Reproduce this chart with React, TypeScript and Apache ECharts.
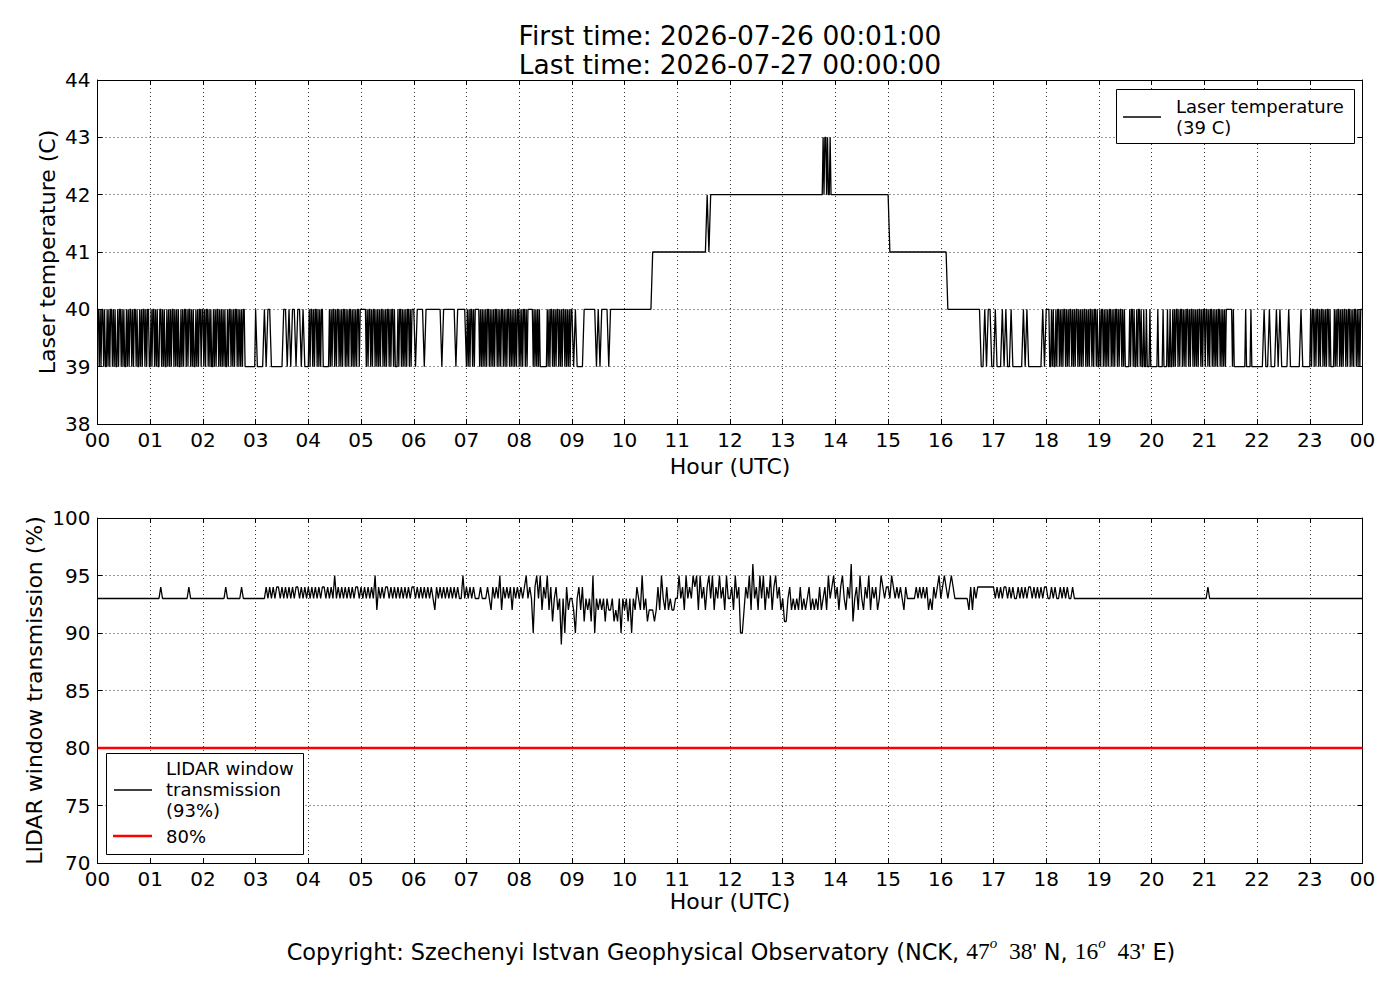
import React, { useEffect, useRef } from "react";
import * as echarts from "echarts";

// Laser temperature, one string per hour (00..23). Each char spans hour/len.
// digit d -> 39 + d  (0=39 C, 1=40 C, 2=41 C, 3=42 C, 4=43 C)
const tempByHour: string[] = [
  "110101101001010110101001011010100101011010110100101011010110",
  "010110101001101010010101011010101001010110101101010010101101",
  "101011010100101011010101010010110101011010101011000000000000",
  "100001011000000011010110110100",
  "010110101101010110000000101011010110101011010101101010101101",
  "111111010110101101010101101010110101101000101101010101101011",
  "101111011111111101111111011111",
  "010101101011111010101010110101010110101011010101101010101011",
  "010101101011111101010101000000001010110101011010101101010101",
  "101000011111110101111011111111",
  "111111111111111122222222222222",
  "222222222222222223233333333333",
  "333333333333333333333333333333",
  "333333333333333333333333333333" + "3333333333333333" + "4344343343" + "3333",
  "333333333333333333333333333333",
  "322222222222222222222222222222",
  "222211111111111111111110010110",
  "010001010010000001010000000010",
  "111100101001011010101101010110101011010101011010101101011010",
  "010110101010110101011010110101000001011010010110100100100010",
  "000000010000010000100100101011010110101011010110101010110101",
  "101101011010101011010101011111110100000000000001000001000000",
  "000010010001010000100000010000",
  "010110101101011010101101000010101101010110101101010110101011",
];
const tempLast = 40; // value at 24:00

// LIDAR window transmission, one string per hour; char = last digit of value
// ('9' = 89 %, '0'..'6' = 90..96 %)
const transByHour: string[] = [
  "333333333333333333333333333333",
  "333333433333333333333343333333",
  "333333333333343333333343333333",
  "333333434343443434343434434343",
  "434343434434343534343434343443",
  "434343435243434434343434343434",
  "434343434343243434343434343353",
  "434343334333432434352434342434",
  "343453430453524352413423930423",
  "320342413231503232313223121303",
  "231303243252312221242532423223",
  "353425343545253424535243534253",
  "342534002435263425352435245342",
  "311342323242323423232423425345",
  "342453243613425324352434235434",
  "435434343243333343434342324345",
  "345434543333333324243444444444",
  "434343443434334343434434343434",
  "433434334343433433333333333333",
  "333333333333333333333333333333",
  "333333333333333333333333333333",
  "334333333333333333333333333333",
  "333333333333333333333333333333",
  "333333333333333333333333333333",
];
const transLast = 93;

const threshold = 80;
const tempAxis = { min: 38, max: 44, interval: 1 };
const transAxis = { min: 70, max: 100, interval: 5 };
const hourAxis = { min: 0, max: 24, interval: 1 };

const titleLines = ["First time: 2026-07-26 00:01:00", "Last time: 2026-07-27 00:00:00"];
const tempLegend = ["Laser temperature", "(39 C)"];
const transLegend = ["LIDAR window", "transmission", "(93%)"];
const threshLegend = "80%";

function decodeTemp(): number[][] {
  const pts: number[][] = [];
  tempByHour.forEach((s, h) => {
    for (let k = 0; k < s.length; k++) pts.push([h + k / s.length, 39 + Number(s[k])]);
  });
  pts.push([24, tempLast]);
  return pts;
}
function decodeTrans(): number[][] {
  const pts: number[][] = [];
  transByHour.forEach((s, h) => {
    for (let k = 0; k < s.length; k++) {
      const c = s[k];
      pts.push([h + k / s.length, c === "9" ? 89 : 90 + Number(c)]);
    }
  });
  pts.push([24, transLast]);
  return pts;
}

const FONT = "DejaVu Sans";
const pad2 = (v: number) => String(Math.round(v) % 24).padStart(2, "0");

const GL = 97.5, GW = 1265;
const G0T = 80, G0H = 344;
const G1T = 518, G1H = 345;
const LW = 1.3;

function xAxisDef(gridIndex: number, position: string, main: boolean) {
  return {
    type: "value", gridIndex, position, ...hourAxis,
    axisLine: { show: true, onZero: false, lineStyle: { color: "#000", width: 1 } },
    axisTick: { show: true, inside: true, length: 5, lineStyle: { color: "#000", width: 1 } },
    axisLabel: { show: main, color: "#000", fontFamily: FONT, fontSize: 20, margin: 6, showMinLabel: true, showMaxLabel: true, formatter: (v: number) => pad2(v) },
    splitLine: { show: main, lineStyle: { color: "#000", width: 1, type: [1, 3], opacity: 0.8 } },
  };
}
function yAxisDef(gridIndex: number, position: string, main: boolean, range: any) {
  return {
    type: "value", gridIndex, position, ...range,
    axisLine: { show: true, onZero: false, lineStyle: { color: "#000", width: 1 } },
    axisTick: { show: true, inside: true, length: 5, lineStyle: { color: "#000", width: 1 } },
    axisLabel: { show: main, color: "#000", fontFamily: FONT, fontSize: 20, margin: 7, showMinLabel: true, showMaxLabel: true },
    splitLine: { show: main, lineStyle: { color: "#000", width: 1, type: [1, 3], opacity: 0.8 } },
  };
}

function txt(x: number, y: number, text: string, size: number, align = "center", rotation = 0, extra: any = {}) {
  return {
    type: "text", x, y, rotation, z: 100,
    style: { text, fill: "#000", font: `${size}px "${FONT}"`, align, verticalAlign: "middle", ...extra },
  };
}

export default function App() {
  const ref = useRef<HTMLDivElement>(null);
  useEffect(() => {
    if (!ref.current) return;
    const chart = echarts.init(ref.current, undefined, { renderer: "svg" });
    const tempPts = decodeTemp();
    const transPts = decodeTrans();

    const graphic: any[] = [
      txt(730, 35, titleLines[0], 26.5),
      txt(730, 64, titleLines[1], 26.5),
      txt(47, G0T + G0H / 2, "Laser temperature (C)", 22, "center", Math.PI / 2),
      txt(34, G1T + G1H / 2, "LIDAR window transmission (%)", 22, "center", Math.PI / 2),
      txt(730, 466, "Hour (UTC)", 22),
      txt(730, 901, "Hour (UTC)", 22),
      // top legend
      { type: "rect", z: 100, shape: { x: 1116.5, y: 89.5, width: 238, height: 54 }, style: { fill: "#fff", stroke: "#000", lineWidth: 1 } },
      { type: "line", z: 101, shape: { x1: 1123, y1: 117, x2: 1161, y2: 117 }, style: { stroke: "#000", lineWidth: LW } },
      txt(1176, 106, tempLegend[0], 18, "left"),
      txt(1176, 127, tempLegend[1], 18, "left"),
      // bottom legend
      { type: "rect", z: 100, shape: { x: 106.5, y: 753.5, width: 197, height: 101 }, style: { fill: "#fff", stroke: "#000", lineWidth: 1 } },
      { type: "line", z: 101, shape: { x1: 114, y1: 790, x2: 152, y2: 790 }, style: { stroke: "#000", lineWidth: LW } },
      txt(166, 768, transLegend[0], 18, "left"),
      txt(166, 789, transLegend[1], 18, "left"),
      txt(166, 810, transLegend[2], 18, "left"),
      { type: "line", z: 101, shape: { x1: 113, y1: 836, x2: 152, y2: 836 }, style: { stroke: "#ff0000", lineWidth: 2.5 } },
      txt(166, 836, threshLegend, 18, "left"),
      {
        type: "text", x: 731, y: 949, z: 100,
        style: {
          text: "{n|Copyright: Szechenyi Istvan Geophysical Observatory (NCK, }{m|47}{s|o}{m|  38'}{n| N, }{m|16}{s|o}{m|  43'}{n| E)}",
          align: "center", verticalAlign: "middle", fill: "#000",
          rich: {
            n: { fontFamily: FONT, fontSize: 22.4, lineHeight: 28, verticalAlign: "bottom", fill: "#000" },
            m: { fontFamily: "Liberation Serif", fontSize: 23.5, lineHeight: 28, verticalAlign: "bottom", fill: "#000" },
            s: { fontFamily: "Liberation Serif", fontStyle: "italic", fontSize: 15, lineHeight: 28, verticalAlign: "top", fill: "#000" },
          },
        },
      },
    ];

    chart.setOption({
      animation: false,
      backgroundColor: "#fff",
      grid: [
        { left: GL, top: G0T, width: GW, height: G0H, containLabel: false },
        { left: GL, top: G1T, width: GW, height: G1H, containLabel: false },
      ],
      xAxis: [xAxisDef(0, "bottom", true), xAxisDef(0, "top", false), xAxisDef(1, "bottom", true), xAxisDef(1, "top", false)],
      yAxis: [
        yAxisDef(0, "left", true, tempAxis), yAxisDef(0, "right", false, tempAxis),
        yAxisDef(1, "left", true, transAxis), yAxisDef(1, "right", false, transAxis),
      ],
      series: [
        { type: "line", xAxisIndex: 0, yAxisIndex: 0, data: tempPts, showSymbol: false, symbol: "none", lineStyle: { color: "#000", width: LW }, z: 3 },
        { type: "line", xAxisIndex: 2, yAxisIndex: 2, data: [[hourAxis.min, threshold], [hourAxis.max, threshold]], showSymbol: false, symbol: "none", lineStyle: { color: "#ff0000", width: 2.5 }, z: 2 },
        { type: "line", xAxisIndex: 2, yAxisIndex: 2, data: transPts, showSymbol: false, symbol: "none", lineStyle: { color: "#000", width: LW }, z: 3 },
      ],
      graphic,
    });
    return () => chart.dispose();
  }, []);
  return <div ref={ref} style={{ position: "absolute", left: 0, top: 0, width: 1400, height: 1000, background: "#fff" }} />;
}
